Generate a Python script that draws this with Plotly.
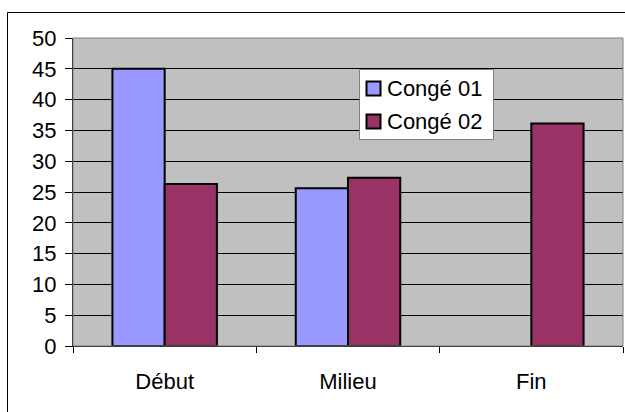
import plotly.graph_objects as go

categories = ["Début", "Milieu", "Fin"]
conge01 = [45, 25.6, None]
conge02 = [26.3, 27.3, 36.1]
series_names = ["Congé 01", "Congé 02"]
colors = ["#9999FF", "#993366"]
y_ticks = [0, 5, 10, 15, 20, 25, 30, 35, 40, 45, 50]

W, H = 625, 412
L, R, T, B = 73, 2, 38, 66
PW, PH = W - L - R, H - T - B


def px(x):
    return (x - L) / PW


def py(y):
    return (H - B - y) / PH


fig = go.Figure()
for name, vals, col in zip(series_names, [conge01, conge02], colors):
    fig.add_trace(go.Bar(
        x=categories, y=vals, name=name,
        marker=dict(color=col, line=dict(color="#000000", width=2)),
    ))

font = dict(family="Liberation Sans, Arial, sans-serif", size=22, color="#000000")

shapes = [
    # plot area border
    dict(type="rect", xref="paper", yref="paper", x0=0, x1=1, y0=0, y1=1,
         line=dict(color="#808080", width=1), fillcolor="rgba(0,0,0,0)", layer="above"),
    # outer chart border
    dict(type="rect", xref="paper", yref="paper",
         x0=px(7.5), x1=px(640), y0=py(430), y1=py(12.5),
         line=dict(color="#000000", width=1), fillcolor="rgba(0,0,0,0)", layer="below"),
    # legend box
    dict(type="rect", xref="paper", yref="paper",
         x0=px(359.5), x1=px(493.5), y0=py(139.5), y1=py(69.5),
         line=dict(color="#808080", width=1), fillcolor="#FFFFFF", layer="above"),
]
annotations = []
legend_rows = [88.5, 121.5]
for name, col, yc in zip(series_names, colors, legend_rows):
    shapes.append(dict(type="rect", xref="paper", yref="paper",
                       x0=px(366.5), x1=px(380.5), y0=py(yc + 7), y1=py(yc - 7),
                       line=dict(color="#000000", width=2), fillcolor=col, layer="above"))
    annotations.append(dict(xref="paper", yref="paper", x=px(385), y=py(yc),
                            xanchor="left", yanchor="middle", text=name,
                            showarrow=False, font=font))

fig.update_layout(
    width=W, height=H,
    margin=dict(l=L, r=R, t=T, b=B, pad=0),
    paper_bgcolor="#FFFFFF",
    plot_bgcolor="#C0C0C0",
    barmode="group",
    bargap=0.43,
    bargroupgap=0,
    font=font,
    showlegend=False,
    xaxis=dict(
        showline=True, linecolor="#000000", linewidth=1,
        ticks="outside", tickson="boundaries", ticklen=6, tickcolor="#000000",
        showgrid=False, tickfont=font, mirror=False,
        ticklabelstandoff=16,
    ),
    yaxis=dict(
        range=[0, 50], tickvals=y_ticks,
        showline=True, linecolor="#000000", linewidth=1,
        ticks="outside", ticklen=7, tickcolor="#000000",
        showgrid=True, gridcolor="#000000", gridwidth=1,
        zeroline=False, tickfont=font,
        ticklabelstandoff=4,
    ),
    shapes=shapes,
    annotations=annotations,
)

fig.write_html("out.html", config={"displayModeBar": False},
               post_script="document.body.style.margin='0';document.body.style.overflow='hidden';")
